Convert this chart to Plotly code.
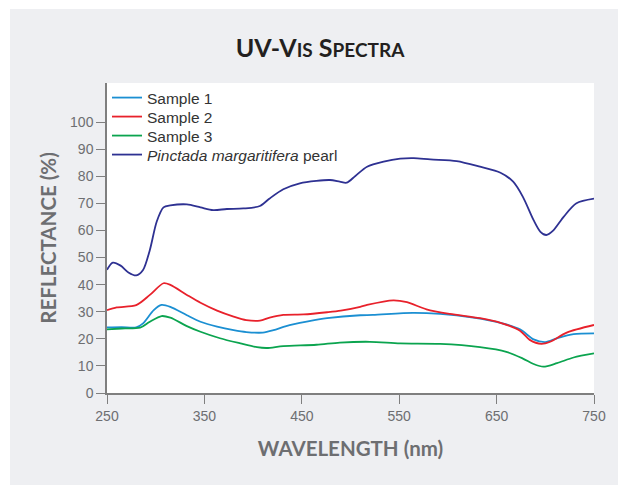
import plotly.graph_objects as go

# ---- data ----
pearl_wl = [250, 256, 264, 272, 280, 287, 294, 301, 308, 315, 332, 346, 359, 373, 390, 407, 417, 431, 448, 465, 479, 489, 496, 505, 517, 534, 551, 565, 582, 609, 633, 654, 667, 677, 688, 695, 701, 708, 719, 732, 750]
pearl_val = [45.5, 48.1, 47.0, 44.5, 43.4, 45.4, 52.8, 63.2, 68.5, 69.2, 69.6, 68.5, 67.5, 67.9, 68.1, 69.0, 71.8, 75.2, 77.4, 78.3, 78.6, 78.0, 77.6, 80.1, 83.5, 85.4, 86.5, 86.7, 86.2, 85.6, 83.5, 81.3, 78.0, 72.4, 63.8, 59.5, 58.3, 59.9, 65.1, 70.0, 71.7]

s2_wl = [250, 260, 280, 294, 308, 315, 332, 346, 363, 380, 393, 407, 417, 431, 452, 476, 490, 510, 517, 544, 558, 578, 602, 633, 654, 674, 684, 696, 705, 722, 750]
s2_val = [30.6, 31.6, 32.4, 36.2, 40.5, 39.9, 36.2, 33.3, 30.4, 28.2, 26.9, 26.7, 27.8, 28.8, 29.0, 29.8, 30.4, 31.8, 32.5, 34.2, 33.5, 30.9, 29.2, 27.6, 25.9, 23.0, 19.6, 18.1, 18.9, 22.3, 25.1]

s1_wl = [250, 265, 280, 287, 298, 306, 315, 332, 346, 363, 380, 393, 410, 421, 434, 455, 476, 510, 523, 564, 592, 626, 654, 674, 688, 700, 712, 729, 750]
s1_val = [24.2, 24.3, 24.2, 25.7, 30.6, 32.5, 31.8, 28.7, 26.3, 24.5, 23.2, 22.5, 22.3, 23.2, 24.7, 26.3, 27.6, 28.7, 28.8, 29.6, 29.2, 27.8, 25.9, 23.5, 19.8, 18.8, 20.2, 21.7, 22.0]

s3_wl = [250, 265, 284, 294, 306, 315, 332, 346, 366, 387, 404, 414, 431, 465, 489, 520, 551, 592, 633, 660, 677, 688, 698, 712, 729, 750]
s3_val = [23.5, 23.8, 24.1, 26.3, 28.4, 27.8, 24.7, 22.6, 20.2, 18.3, 16.9, 16.6, 17.3, 17.8, 18.6, 18.9, 18.3, 18.1, 16.9, 15.2, 12.7, 10.7, 9.7, 11.0, 13.1, 14.6]

series = [
    ("Sample 1", s1_wl, s1_val, "#1b8fd2"),
    ("Sample 2", s2_wl, s2_val, "#e8212b"),
    ("Sample 3", s3_wl, s3_val, "#0ba44f"),
    ("<i>Pinctada margaritifera</i> pearl", pearl_wl, pearl_val, "#2e3192"),
]

x_ticks = [250, 350, 450, 550, 650, 750]
y_ticks = [0, 10, 20, 30, 40, 50, 60, 70, 80, 90, 100]

W, H = 626, 485
L, R, T, B = 99, 40, 75, 100
pw, ph = W - L - R, H - T - B

legend_names = ["legend", "legend2", "legend3", "legend4"]
legend_font = dict(family="Liberation Sans, Arial, sans-serif", size=15.5, color="#333333")

fig = go.Figure()
for i, (name, xs, ys, col) in enumerate(series):
    fig.add_trace(go.Scatter(x=xs, y=ys, mode="lines", name=name, legend=legend_names[i],
                             line=dict(color=col, width=1.8, shape="spline", smoothing=0.8)))

title_font = "Lato, 'Open Sans', sans-serif"
layout_legends = {}
for i, ln in enumerate(legend_names):
    layout_legends[ln] = dict(x=0.0, y=1 + 2 / ph - (19 * i) / ph, xanchor="left", yanchor="top",
                              bgcolor="rgba(0,0,0,0)", font=legend_font)

fig.update_layout(
    width=W, height=H,
    margin=dict(l=L, r=R, t=T, b=B),
    paper_bgcolor="#eeeff2",
    plot_bgcolor="white",
    title=dict(
        text="UV-V<span style='font-size:19px'>IS</span> S<span style='font-size:19px'>PECTRA</span>",
        x=312 / W, xref="container", xanchor="center",
        y=1 - 40 / H, yref="container", yanchor="middle",
        font=dict(family=title_font, size=25, color="#231f20", weight="bold"),
    ),
    showlegend=True,
    xaxis=dict(range=[250, 750], tickvals=x_ticks, ticks="outside", ticklen=9, tickwidth=1.3,
               tickcolor="#7f7f7f", showline=True, linecolor="#7f7f7f", linewidth=1.5,
               showgrid=False, zeroline=False,
               tickfont=dict(family="Liberation Sans, Arial, sans-serif", size=14, color="#6d6e71"),
               title=dict(text="WAVELENGTH (nm)", standoff=19,
                          font=dict(family=title_font, size=20.5, color="#6d6e71", weight="bold"))),
    yaxis=dict(range=[0, 114.4], tickvals=y_ticks, ticks="outside", ticklen=9, tickwidth=1.3,
               tickcolor="#7f7f7f", showline=True, linecolor="#7f7f7f", linewidth=1.5,
               showgrid=False, zeroline=False,
               tickfont=dict(family="Liberation Sans, Arial, sans-serif", size=14, color="#6d6e71"),
               title=dict(text="REFLECTANCE (%)", standoff=8,
                          font=dict(family=title_font, size=20.5, color="#6d6e71", weight="bold"))),
    **layout_legends,
)

# thin white outer strips (top and left)
fig.add_shape(type="rect", xref="paper", yref="paper", layer="below",
              x0=(0 - L) / pw, x1=(W - L) / pw, y0=(ph + T - 1) / ph, y1=(ph + T) / ph,
              fillcolor="white", line=dict(width=0))
fig.add_shape(type="rect", xref="paper", yref="paper", layer="below",
              x0=(0 - L) / pw, x1=(2 - L) / pw, y0=(-B) / ph, y1=(ph + T) / ph,
              fillcolor="white", line=dict(width=0))

fig.write_html("out.html")
